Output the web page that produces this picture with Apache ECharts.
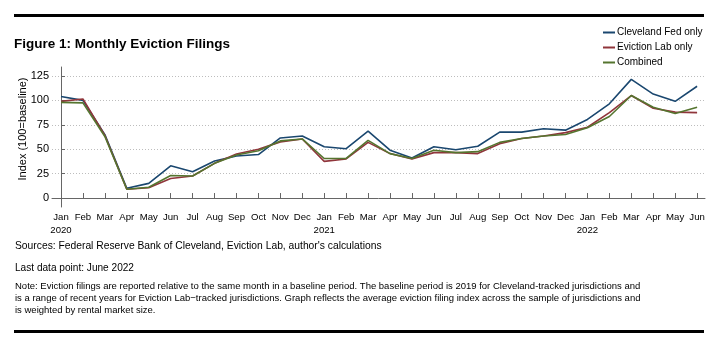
<!DOCTYPE html>
<html>
<head>
<meta charset="utf-8">
<script src="https://cdn.jsdelivr.net/npm/echarts@6/dist/echarts.min.js"></script>
<style>
  html, body { margin: 0; padding: 0; background: #fff; }
  #main { width: 723px; height: 350px; }
</style>
</head>
<body>
<div id="main"></div>
<script>
// 月份类目（2020年1月 - 2022年6月）
const months = ['Jan', 'Feb', 'Mar', 'Apr', 'May', 'Jun', 'Jul', 'Aug', 'Sep', 'Oct', 'Nov', 'Dec',
  'Jan', 'Feb', 'Mar', 'Apr', 'May', 'Jun', 'Jul', 'Aug', 'Sep', 'Oct', 'Nov', 'Dec',
  'Jan', 'Feb', 'Mar', 'Apr', 'May', 'Jun']
const years = ['2020', '2021', '2022']
const yTicks = [0, 25, 50, 75, 100, 125]

// 三条折线数据
const clevelandFed = [104, 100, 65, 10, 15, 33, 27, 38, 43, 44.5, 61.5, 63.5,
  52.5, 50.5, 68.5, 49, 41, 52.5, 49.5, 53, 67.5, 67.5, 71, 69.5,
  80.5, 96.5, 121.5, 106.5, 99, 114.5]
const evictionLab = [99, 101.5, 64, 9, 10.5, 20, 22.5, 35.5, 45, 50, 57.5, 60.5,
  37.5, 40, 57, 45.5, 40, 46.5, 46.5, 45.5, 55.5, 61, 63.5, 67,
  72.5, 87.5, 105, 92, 88, 87.5]
const combined = [98, 97.5, 63, 9, 11, 23, 22.5, 35.5, 44, 48.5, 58.5, 60.5,
  40.5, 40.5, 59, 45.5, 40.5, 49, 46.5, 47.5, 57, 61, 63.5, 65,
  72, 83.5, 105, 93, 86.5, 93]

const font = "'Liberation Sans', Arial, sans-serif"
const monthIdx = months.map((m, i) => i)
const toPairs = arr => arr.map((v, i) => [i, v])

const myChart = echarts.init(document.querySelector('#main'))
const option = {
  backgroundColor: '#fff',
  animation: false,
  textStyle: { fontFamily: font },
  title: [
    {
      text: 'Figure 1: Monthly Eviction Filings',
      left: 14,
      top: 37,
      padding: 0,
      textStyle: { fontSize: 13.5, fontWeight: 'bold', color: '#000', fontFamily: font },
    },
    {
      text: "Sources: Federal Reserve Bank of Cleveland, Eviction Lab, author's calculations",
      left: 15,
      top: 241,
      padding: 0,
      textStyle: { fontSize: 10.3, fontWeight: 'normal', color: '#000', fontFamily: font },
    },
    {
      text: 'Last data point: June 2022',
      left: 15,
      top: 263,
      padding: 0,
      textStyle: { fontSize: 10.1, fontWeight: 'normal', color: '#000', fontFamily: font },
    },
    {
      text: 'Note: Eviction filings are reported relative to the same month in a baseline period. The baseline period is 2019 for Cleveland-tracked jurisdictions and\n' +
        'is a range of recent years for Eviction Lab\u2212tracked jurisdictions. Graph reflects the average eviction filing index across the sample of jurisdictions and\n' +
        'is weighted by rental market size.',
      left: 15,
      top: 280,
      padding: 0,
      textStyle: { fontSize: 9.5, lineHeight: 12.2, fontWeight: 'normal', color: '#000', fontFamily: font },
    },
  ],
  // 上下两条黑色粗线 + 纵轴标题
  graphic: [
    { type: 'rect', shape: { x: 14, y: 14, width: 690, height: 3 }, style: { fill: '#000' } },
    { type: 'rect', shape: { x: 14, y: 330, width: 690, height: 3 }, style: { fill: '#000' } },
    {
      type: 'text',
      x: 23,
      y: 129,
      rotation: Math.PI / 2,
      style: {
        text: 'Index (100=baseline)',
        fontSize: 11,
        fontFamily: font,
        fill: '#000',
        align: 'center',
        verticalAlign: 'middle',
      },
    },
  ],
  legend: {
    orient: 'vertical',
    left: 603,
    top: 25,
    padding: 0,
    itemGap: 0,
    icon: 'rect',
    itemWidth: 12,
    itemHeight: 2,
    textStyle: { fontSize: 10, lineHeight: 15, color: '#000', fontFamily: font, padding: [0, 0, 0, -3] },
  },
  grid: {
    left: 52,
    right: 18,
    top: 67,
    bottom: 143,
  },
  xAxis: {
    type: 'value',
    min: -0.41,
    max: 29.36,
    axisLine: { lineStyle: { color: '#666', width: 1 } },
    axisTick: { show: true, inside: true, length: 5, customValues: monthIdx, lineStyle: { color: '#666' } },
    axisLabel: {
      customValues: monthIdx,
      margin: 4,
      fontSize: 9.6,
      lineHeight: 13,
      color: '#000',
      fontFamily: font,
      formatter: v => (v % 12 === 0 ? months[v] + '\n' + years[v / 12] : months[v]),
    },
    splitLine: { show: false },
  },
  yAxis: {
    type: 'value',
    min: -9.2,
    max: 134.2,
    axisLine: { show: true, lineStyle: { color: '#666', width: 1 } },
    axisTick: { show: true, inside: true, length: 4, customValues: yTicks, lineStyle: { color: '#666' } },
    axisLabel: { customValues: yTicks, margin: 3, fontSize: 11, color: '#000', fontFamily: font },
    splitLine: { show: true, lineStyle: { color: '#bdbdbd', type: [1, 2], width: 1 } },
  },
  series: [
    {
      name: 'Cleveland Fed only',
      type: 'line',
      data: toPairs(clevelandFed),
      symbol: 'none',
      lineStyle: { color: '#1a476f', width: 1.6 },
      itemStyle: { color: '#1a476f' },
    },
    {
      name: 'Eviction Lab only',
      type: 'line',
      data: toPairs(evictionLab),
      symbol: 'none',
      lineStyle: { color: '#90353b', width: 1.6 },
      itemStyle: { color: '#90353b' },
    },
    {
      name: 'Combined',
      type: 'line',
      data: toPairs(combined),
      symbol: 'none',
      lineStyle: { color: '#55752f', width: 1.6 },
      itemStyle: { color: '#55752f' },
    },
  ],
}
myChart.setOption(option)
</script>
</body>
</html>
